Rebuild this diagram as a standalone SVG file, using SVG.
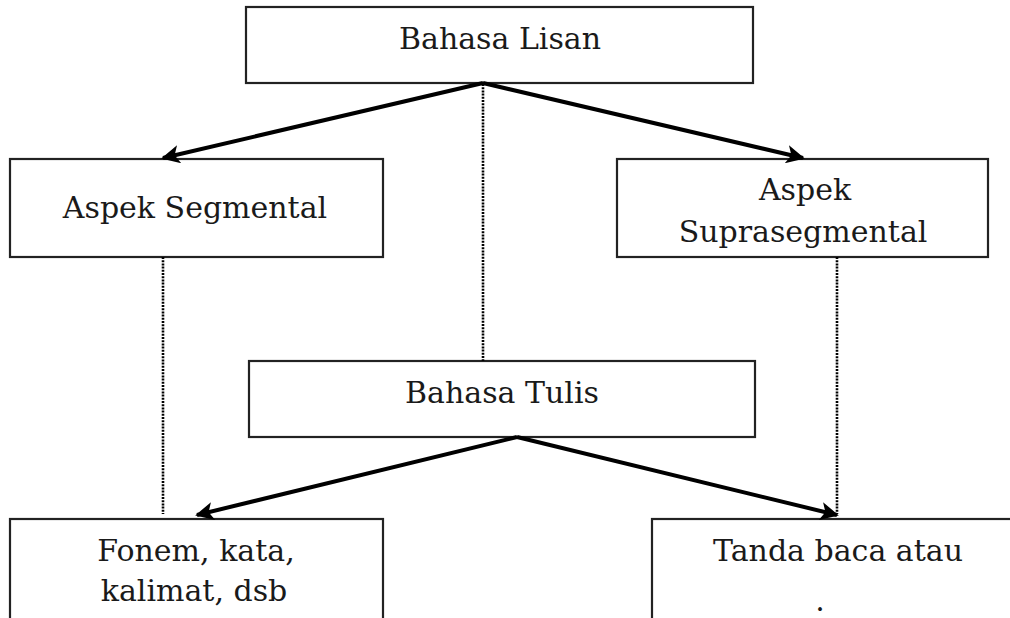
<svg xmlns="http://www.w3.org/2000/svg" width="1010" height="618" viewBox="0 0 1010 618">
<defs>
<style>
.box{fill:#fff;stroke:#222;stroke-width:2.2}
.t{font-family:"DejaVu Serif","Liberation Serif",serif;font-size:30px;fill:#1a1a1a;text-anchor:middle}
.arr{stroke:#000;stroke-width:4;fill:none;marker-end:url(#ah)}
.dot{stroke:#000;stroke-width:2.6;stroke-dasharray:2 1.2;fill:none}
</style>
<marker id="ah" viewBox="0 0 10 10" refX="9" refY="5" markerWidth="5.5" markerHeight="4.6" orient="auto" markerUnits="strokeWidth">
<path d="M0,0 L10,5 L0,10 L2.5,5 Z" fill="#000"/>
</marker>
</defs>
<rect width="1010" height="618" fill="#fff"/>
<g id="bahasa-lisan"><rect class="box" x="246" y="7" width="507" height="76"/><text class="t" x="500" y="49">Bahasa Lisan</text></g>
<g id="aspek-segmental"><rect class="box" x="10" y="159" width="373" height="98"/><text class="t" x="195" y="218">Aspek Segmental</text></g>
<g id="aspek-suprasegmental"><rect class="box" x="617" y="159" width="371" height="98"/><text class="t" x="805" y="200">Aspek</text><text class="t" x="803" y="242">Suprasegmental</text></g>
<g id="bahasa-tulis"><rect class="box" x="249" y="361" width="506" height="76"/><text class="t" x="502" y="403">Bahasa Tulis</text></g>
<g id="fonem"><rect class="box" x="10" y="519" width="373" height="110"/><text class="t" x="196" y="561">Fonem, kata,</text><text class="t" x="194" y="601">kalimat, dsb</text></g>
<g id="tanda-baca"><rect class="box" x="652" y="519" width="380" height="110"/><text class="t" x="838" y="561">Tanda baca atau</text><text class="t" x="820" y="611">.</text></g>
<g id="connectors">
<line class="dot" x1="483" y1="84" x2="483" y2="361"/>
<line class="dot" x1="163" y1="257" x2="163" y2="514"/>
<line class="dot" x1="837" y1="257" x2="837" y2="514"/>
<line class="arr" x1="483" y1="83" x2="163" y2="158"/>
<line class="arr" x1="483" y1="83" x2="803" y2="158"/>
<line class="arr" x1="517" y1="437" x2="197" y2="515"/>
<line class="arr" x1="517" y1="437" x2="837" y2="515"/>
</g>
</svg>
